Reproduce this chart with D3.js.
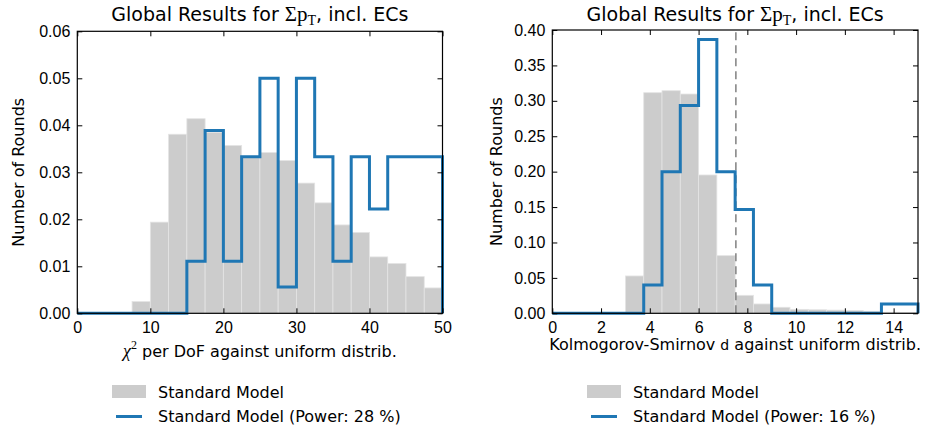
<!DOCTYPE html>
<html>
<head>
<meta charset="utf-8">
<script src="https://cdn.jsdelivr.net/npm/d3@7"></script>
<style>
  html, body { margin: 0; padding: 0; background: #fff; }
  svg { display: block; font-family: "DejaVu Sans", sans-serif; }
  .tick text { font-size: 16px; fill: #000; }
  .domain { display: none; }
</style>
</head>
<body>
<svg id="fig" width="927" height="432"></svg>
<script>
// Bin edges of the two histograms
const chiEdges = [0, 2.5, 5, 7.5, 10, 12.5, 15, 17.5, 20, 22.5, 25, 27.5, 30, 32.5, 35, 37.5, 40, 42.5, 45, 47.5, 50];
const ksEdges = [0, 0.75, 1.5, 2.25, 3, 3.75, 4.5, 5.25, 6, 6.75, 7.5, 8.25, 9, 9.75, 10.5, 11.25, 12, 12.75, 13.5, 14.25, 15];

// Normalised counts per bin: chi^2 per DoF
const chiSM = [0, 0, 0, 0.0025, 0.0194, 0.0381, 0.0414, 0.0385, 0.0357, 0.0331, 0.0342, 0.0325, 0.0277, 0.0235, 0.0188, 0.0172, 0.0120, 0.0106, 0.0078, 0.0054];
const chiPower = [0, 0, 0, 0, 0, 0, 0.0111, 0.0389, 0.0111, 0.0333, 0.05, 0.0056, 0.05, 0.0333, 0.0111, 0.0333, 0.0222, 0.0333, 0.0333, 0.0333];

// Normalised counts per bin: Kolmogorov-Smirnov d
const ksSM = [0, 0, 0, 0, 0.0527, 0.3115, 0.3143, 0.3096, 0.1953, 0.0814, 0.0254, 0.0132, 0.0085, 0.0056, 0.0050, 0.0045, 0.0040, 0.0028, 0.0015, 0.0010];
const ksPower = [0, 0, 0, 0, 0, 0.04, 0.2, 0.2933, 0.3867, 0.2, 0.1467, 0.04, 0, 0, 0, 0, 0, 0, 0.0133, 0.0133];
const ksCritical = 7.53;

// Tick values
const chiXTicks = [0, 10, 20, 30, 40, 50];
const chiYTicks = [0, 0.01, 0.02, 0.03, 0.04, 0.05, 0.06];
const ksXTicks = [0, 2, 4, 6, 8, 10, 12, 14];
const ksYTicks = [0, 0.05, 0.10, 0.15, 0.20, 0.25, 0.30, 0.35, 0.40];

const legendLabels = {
  chi: ["Standard Model", "Standard Model (Power: 28 %)"],
  ks: ["Standard Model", "Standard Model (Power: 16 %)"]
};

const GRAY = "#cccccc";
const BLUE = "#1f77b4";
const SERIF = "'Liberation Serif', 'DejaVu Serif', serif";

const svg = d3.select("#fig");

function stepPath(x, y, edges, vals) {
  const pts = [[edges[0], 0]];
  vals.forEach((v, i) => { pts.push([edges[i], v]); pts.push([edges[i + 1], v]); });
  pts.push([edges[edges.length - 1], 0]);
  return d3.line().x(d => x(d[0])).y(d => y(d[1]))(pts);
}

function panel(cfg) {
  const { x0, x1, yTop, yBot, xDom, yDom, edges, sm, power, xTicks, yTicks, xFmt, yFmt } = cfg;
  const x = d3.scaleLinear().domain(xDom).range([x0, x1]);
  const y = d3.scaleLinear().domain(yDom).range([yBot, yTop]);
  const g = svg.append("g");

  // gray filled histogram
  g.append("g").selectAll("rect").data(sm).join("rect")
    .attr("x", (d, i) => x(edges[i]))
    .attr("width", (d, i) => x(edges[i + 1]) - x(edges[i]))
    .attr("y", d => y(d))
    .attr("height", d => yBot - y(d))
    .attr("fill", GRAY)
    .attr("stroke", d => d > 0 ? "#e4e4e4" : "none")
    .attr("stroke-width", 0.8);

  // dashed critical value
  if (cfg.crit !== undefined) {
    g.append("line")
      .attr("x1", x(cfg.crit)).attr("x2", x(cfg.crit))
      .attr("y1", yBot).attr("y2", yTop)
      .attr("stroke", "#808080").attr("stroke-width", 1.5)
      .attr("stroke-dasharray", "8,5");
  }

  // blue step outline
  g.append("path")
    .attr("d", stepPath(x, y, edges, power))
    .attr("fill", "none").attr("stroke", BLUE)
    .attr("stroke-width", 3).attr("stroke-linejoin", "miter");

  // axes with inward ticks on all four sides
  g.append("g").attr("transform", `translate(0,${yBot})`)
    .call(d3.axisBottom(x).tickValues(xTicks).tickFormat(xFmt).tickSize(-5).tickPadding(8))
    .call(a => a.selectAll(".tick line").attr("stroke", "#000"));
  g.append("g").attr("transform", `translate(0,${yTop})`)
    .call(d3.axisTop(x).tickValues(xTicks).tickFormat("").tickSize(-5))
    .call(a => a.selectAll(".tick line").attr("stroke", "#000"));
  g.append("g").attr("transform", `translate(${x0},0)`)
    .call(d3.axisLeft(y).tickValues(yTicks).tickFormat(yFmt).tickSize(-5).tickPadding(7))
    .call(a => a.selectAll(".tick line").attr("stroke", "#000"));
  g.append("g").attr("transform", `translate(${x1},0)`)
    .call(d3.axisRight(y).tickValues(yTicks).tickFormat("").tickSize(-5))
    .call(a => a.selectAll(".tick line").attr("stroke", "#000"));

  // frame
  g.append("rect").attr("x", x0).attr("y", yTop)
    .attr("width", x1 - x0).attr("height", yBot - yTop)
    .attr("fill", "none").attr("stroke", "#000").attr("stroke-width", 1.2);

  // title with math
  const cx = (x0 + x1) / 2;
  const t = svg.append("text").attr("x", cx).attr("y", 21)
    .attr("text-anchor", "middle").attr("font-size", 19);
  t.append("tspan").text("Global Results for ");
  t.append("tspan").attr("font-family", SERIF).attr("font-size", 21).text("Σp");
  t.append("tspan").attr("font-family", SERIF).attr("font-size", 14).attr("dy", 4).text("T");
  t.append("tspan").attr("dy", -4).text(", incl. ECs");

  // y label
  svg.append("text")
    .attr("transform", `translate(${cfg.yLabelX},${(yTop + yBot) / 2}) rotate(-90)`)
    .attr("text-anchor", "middle").attr("dy", "0.35em")
    .attr("font-size", 16).text("Number of Rounds");

  // x label
  cfg.xLabel(svg.append("text").attr("x", cx).attr("y", cfg.xLabelY)
    .attr("text-anchor", "middle").attr("font-size", 16));

  // legend
  const lx = cfg.legendX;
  const labels = cfg.legend;
  svg.append("rect").attr("x", lx).attr("y", 385).attr("width", 34).attr("height", 13).attr("fill", GRAY);
  svg.append("text").attr("x", lx + 46).attr("y", 392).attr("dy", "0.35em").attr("font-size", 16).text(labels[0]);
  svg.append("line").attr("x1", lx + 4).attr("x2", lx + 30).attr("y1", 416.5).attr("y2", 416.5)
    .attr("stroke", BLUE).attr("stroke-width", 3);
  svg.append("text").attr("x", lx + 46).attr("y", 416.5).attr("dy", "0.35em").attr("font-size", 16).text(labels[1]);
}

panel({
  x0: 77.3, x1: 442.5, yTop: 31.3, yBot: 313.3,
  xDom: [0, 50], yDom: [0, 0.06],
  edges: chiEdges, sm: chiSM, power: chiPower,
  xTicks: chiXTicks, yTicks: chiYTicks,
  xFmt: d3.format("d"), yFmt: d3.format(".2f"),
  yLabelX: 18, xLabelY: 357,
  xLabel: t => {
    t.append("tspan").attr("font-family", SERIF).attr("font-style", "italic").attr("font-size", 18).text("χ");
    t.append("tspan").attr("font-family", SERIF).attr("font-size", 12).attr("dy", -8).text("2");
    t.append("tspan").attr("dy", 8).text(" per DoF against uniform distrib.");
  },
  legendX: 112, legend: legendLabels.chi
});

panel({
  x0: 552.3, x1: 918, yTop: 30, yBot: 313.3,
  xDom: [0, 15], yDom: [0, 0.40],
  edges: ksEdges, sm: ksSM, power: ksPower, crit: ksCritical,
  xTicks: ksXTicks, yTicks: ksYTicks,
  xFmt: d3.format("d"), yFmt: d3.format(".2f"),
  yLabelX: 496, xLabelY: 350,
  xLabel: t => {
    t.append("tspan").text("Kolmogorov-Smirnov ");
    t.append("tspan").attr("font-size", 14).text("d");
    t.append("tspan").text(" against uniform distrib.");
  },
  legendX: 587, legend: legendLabels.ks
});
</script>
</body>
</html>
